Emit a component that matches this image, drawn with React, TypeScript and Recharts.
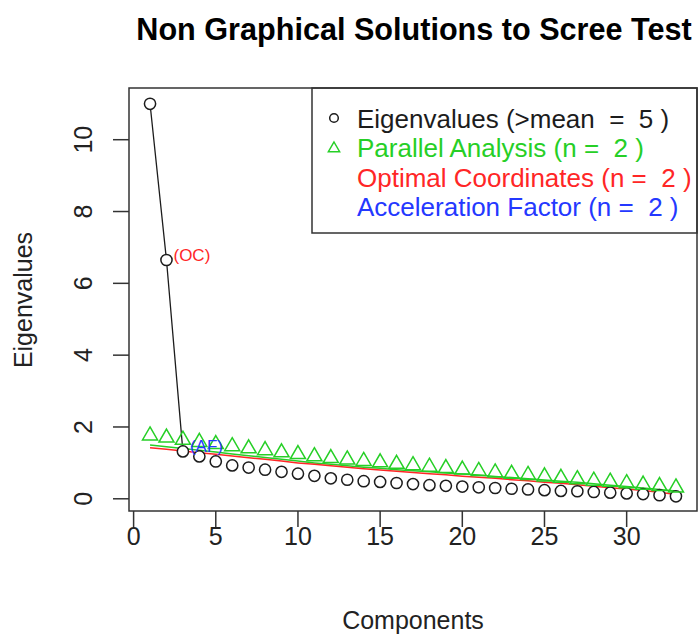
import React from 'react';
import { ComposedChart, Line, XAxis, YAxis, ReferenceArea, ReferenceDot, Customized } from 'recharts';

// components 1..33 and the values
const components = [1, 2, 3, 4, 5, 6, 7, 8, 9, 10, 11, 12, 13, 14, 15, 16, 17, 18, 19, 20, 21, 22, 23, 24, 25, 26, 27, 28, 29, 30, 31, 32, 33];
const eigenvalues = [11.0, 6.65, 1.32, 1.18, 1.04, 0.93, 0.87, 0.81, 0.75, 0.70, 0.64, 0.57, 0.53, 0.49, 0.47, 0.44, 0.41, 0.38, 0.36, 0.34, 0.32, 0.30, 0.28, 0.26, 0.24, 0.22, 0.21, 0.19, 0.17, 0.15, 0.13, 0.10, 0.07];
const parallelAnalysis = [1.76, 1.70, 1.64, 1.58, 1.52, 1.46, 1.40, 1.35, 1.29, 1.24, 1.18, 1.13, 1.09, 1.05, 1.01, 0.97, 0.93, 0.89, 0.85, 0.81, 0.77, 0.73, 0.69, 0.66, 0.62, 0.58, 0.54, 0.50, 0.47, 0.43, 0.39, 0.35, 0.31];
const parallelMean = [1.50, 1.45, 1.40, 1.35, 1.30, 1.25, 1.20, 1.15, 1.10, 1.05, 1.00, 0.96, 0.92, 0.88, 0.85, 0.81, 0.78, 0.75, 0.72, 0.69, 0.66, 0.62, 0.59, 0.56, 0.52, 0.49, 0.46, 0.42, 0.38, 0.34, 0.30, 0.26, 0.22];
const optimalCoordinates = [1.42, 1.38, 1.33, 1.28, 1.24, 1.19, 1.14, 1.10, 1.05, 1.00, 0.96, 0.92, 0.88, 0.84, 0.80, 0.77, 0.73, 0.70, 0.67, 0.63, 0.60, 0.57, 0.53, 0.50, 0.46, 0.43, 0.39, 0.35, 0.31, 0.27, 0.23, 0.18, 0.12];

const xTicks = [0, 5, 10, 15, 20, 25, 30];
const yTicks = [0, 2, 4, 6, 8, 10];
const xDomain = [-0.28, 34.28];
const yDomain = [-0.34, 11.44];

const BLACK = '#1c1c1c';
const GREEN = '#26cf26';
const RED = '#ff2626';
const BLUE = '#2438ff';

const legendItems = [
  { label: 'Eigenvalues (>mean  =  5 )', color: BLACK, symbol: 'circle' },
  { label: 'Parallel Analysis (n =  2 )', color: GREEN, symbol: 'triangle' },
  { label: 'Optimal Coordinates (n =  2 )', color: RED, symbol: 'none' },
  { label: 'Acceleration Factor (n =  2 )', color: BLUE, symbol: 'none' },
];

const data = components.map((c, i) => ({
  comp: c,
  eigen: eigenvalues[i],
  // the connecting line only shows between the first points (type "b" gaps hide the rest)
  eigenLine: i < 3 ? eigenvalues[i] : null,
  pa: parallelAnalysis[i],
  paMean: parallelMean[i],
  oc: optimalCoordinates[i],
}));

const trianglePath = (cx: number, cy: number, r: number) => {
  const xc = r * 0.866;
  const yc = r / 2;
  return `M${cx},${cy - r}L${cx + xc},${cy + yc}L${cx - xc},${cy + yc}Z`;
};

const TriangleDot = (props: any) => {
  const { cx, cy, index } = props;
  if (cx == null || cy == null) return <g key={index} />;
  return <path key={index} d={trianglePath(cx, cy, 8.7)} fill="none" stroke={GREEN} strokeWidth={1.5} />;
};

const YTick = ({ x, y, payload }: any) => (
  <text x={x - 19} y={y} transform={`rotate(-90, ${x - 19}, ${y})`} textAnchor="middle" fontSize={25} fill="#222">
    {payload.value}
  </text>
);

const PointNote = (props: any) => {
  const { viewBox, value, fill } = props;
  const cx = viewBox.x + (viewBox.width || 0) / 2;
  const cy = viewBox.y + (viewBox.height || 0) / 2;
  return (
    <text x={cx + 7} y={cy + 1} fill={fill} fontSize={17}>
      {value}
    </text>
  );
};

const Decorations = () => (
  <g>
    <text x={414} y={40} textAnchor="middle" fontSize={30.6} fontWeight="bold" fill="#000">
      Non Graphical Solutions to Scree Test
    </text>
    <text x={32} y={300} transform="rotate(-90, 32, 300)" textAnchor="middle" fontSize={25} fill="#222">
      Eigenvalues
    </text>
    <rect x={312} y={88} width={385} height={145} fill="#fff" stroke="#333" strokeWidth={1.5} />
    {legendItems.map((item, i) => {
      const cy = 118 + i * 29.5;
      return (
        <g key={item.label}>
          {item.symbol === 'circle' && <circle cx={334} cy={cy} r={4.3} fill="none" stroke={item.color} strokeWidth={1.5} />}
          {item.symbol === 'triangle' && <path d={trianglePath(334, cy + 1, 6.5)} fill="none" stroke={item.color} strokeWidth={1.5} />}
          <text x={357} y={cy + 9.5} fontSize={26} fill={item.color} style={{ whiteSpace: 'pre' }}>
            {item.label}
          </text>
        </g>
      );
    })}
  </g>
);

const ScreeChart = () => (
  <ComposedChart width={699} height={634} data={data} margin={{ top: 88, right: 2, left: 69, bottom: 63 }}>
    <XAxis
      type="number"
      dataKey="comp"
      domain={xDomain}
      ticks={xTicks}
      allowDataOverflow
      axisLine={false}
      tickLine={{ stroke: '#333', strokeWidth: 1.5 }}
      tickSize={16}
      tickMargin={0}
      height={60}
      tick={{ fontSize: 25, fill: '#222' }}
      label={{ value: 'Components', position: 'bottom', offset: 40, fontSize: 25, fill: '#222' }}
    />
    <YAxis
      type="number"
      domain={yDomain}
      ticks={yTicks}
      allowDataOverflow
      axisLine={false}
      tickLine={{ stroke: '#333', strokeWidth: 1.5 }}
      tickSize={16}
      width={60}
      tick={<YTick />}
    />
    <ReferenceArea x1={xDomain[0]} x2={xDomain[1]} y1={yDomain[0]} y2={yDomain[1]} fill="none" fillOpacity={0} stroke="#333" strokeWidth={1.5} />
    <Line dataKey="eigenLine" stroke={BLACK} strokeWidth={1.3} dot={false} isAnimationActive={false} />
    <Line dataKey="eigen" stroke="none" dot={{ r: 5.6, stroke: BLACK, strokeWidth: 1.5, fill: '#fff' }} isAnimationActive={false} />
    <Line dataKey="paMean" stroke={GREEN} strokeWidth={1.5} dot={false} isAnimationActive={false} />
    <Line dataKey="oc" stroke={RED} strokeWidth={1.5} dot={false} isAnimationActive={false} />
    <Line dataKey="pa" stroke="none" dot={TriangleDot} isAnimationActive={false} />
    <ReferenceDot x={components[1]} y={eigenvalues[1]} r={0} fill="none" stroke="none" label={<PointNote value="(OC)" fill={RED} />} />
    <ReferenceDot x={components[2]} y={eigenvalues[2]} r={0} fill="none" stroke="none" label={<PointNote value="(AF)" fill={BLUE} />} />
    <Customized component={Decorations} />
  </ComposedChart>
);

export default function App() {
  return (
    <div style={{ position: 'absolute', left: 0, top: 0, width: 699, height: 634, background: '#fff', fontFamily: '"Liberation Sans", Arial, Helvetica, sans-serif' }}>
      <ScreeChart />
    </div>
  );
}
